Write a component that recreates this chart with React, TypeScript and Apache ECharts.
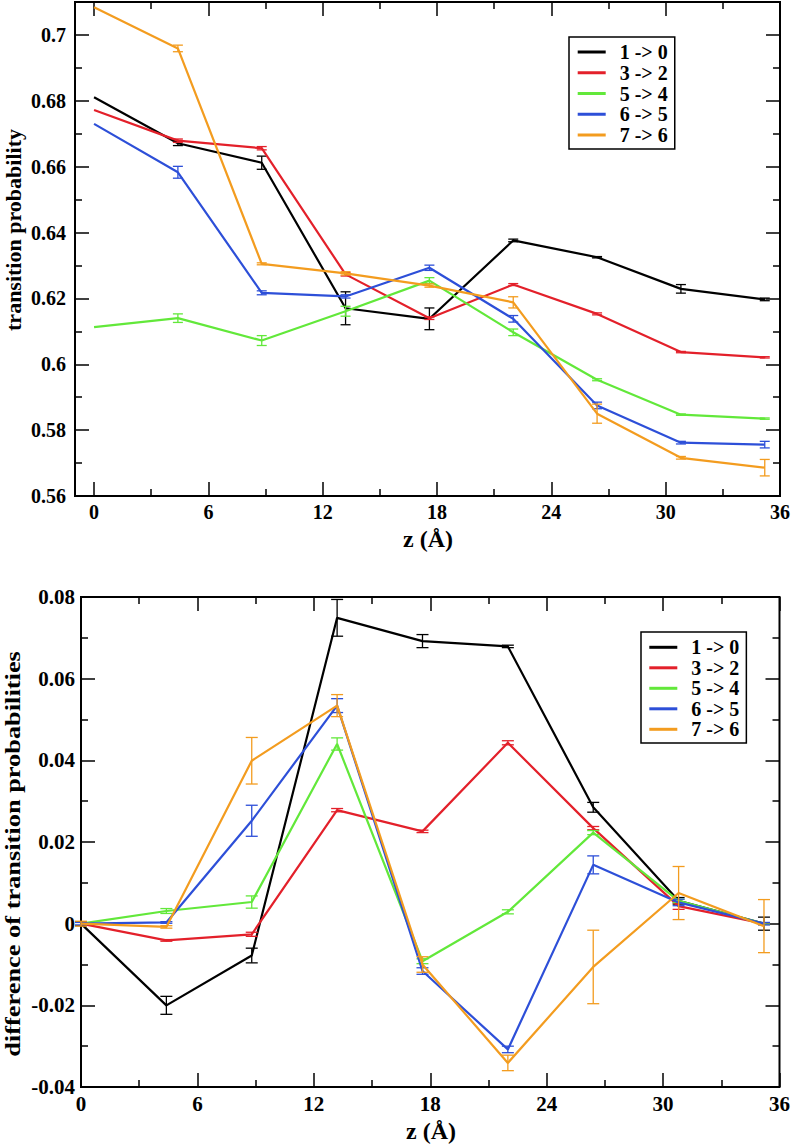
import { useEffect, useRef } from "react";
import * as echarts from "echarts";

// ---------- data ----------
const Z = [0, 4.4, 8.8, 13.2, 17.6, 22, 26.4, 30.8, 35.2];
const SERIES_NAMES = ["1 -> 0", "3 -> 2", "5 -> 4", "6 -> 5", "7 -> 6"];
const COLORS = ["#000000", "#e3202a", "#62e83a", "#2d4fd8", "#f39c1f"];

// top panel: transition probability
const P_10 = [0.6811, 0.6671, 0.6612, 0.617, 0.6138, 0.6376, 0.6325, 0.6229, 0.6197];
const P_32 = [0.6772, 0.6679, 0.6656, 0.6273, 0.614, 0.6242, 0.6153, 0.6037, 0.6021];
const P_54 = [0.6113, 0.614, 0.6072, 0.6161, 0.6254, 0.6097, 0.5953, 0.5847, 0.5835];
const P_65 = [0.673, 0.6583, 0.6217, 0.6206, 0.6293, 0.6138, 0.5875, 0.5762, 0.5756];
const P_76 = [0.7084, 0.6959, 0.6305, 0.6276, 0.6239, 0.6188, 0.585, 0.5716, 0.5686];
const PE_10 = [0, 0.0007, 0.002, 0.005, 0.0033, 0.0004, 0.0002, 0.0013, 0.0004];
const PE_32 = [0, 0.0005, 0.0005, 0.0005, 0.0004, 0.0003, 0.0003, 0.0002, 0.0002];
const PE_54 = [0, 0.0013, 0.0015, 0.0015, 0.0009, 0.001, 0.0003, 0.0002, 0.0002];
const PE_65 = [0, 0.0018, 0.0006, 0.0005, 0.0008, 0.001, 0.001, 0.0004, 0.001];
const PE_76 = [0, 0.001, 0.0003, 0.0005, 0.0005, 0.0017, 0.0029, 0.0004, 0.0025];

// bottom panel: difference of transition probabilities
const D_10 = [0, -0.02, -0.0078, 0.0749, 0.0692, 0.0679, 0.0285, 0.0056, 0];
const D_32 = [0, -0.0041, -0.0026, 0.0278, 0.0226, 0.0443, 0.0234, 0.0043, 0];
const D_54 = [0, 0.0031, 0.0053, 0.044, -0.0092, 0.0029, 0.0223, 0.0056, 0];
const D_65 = [0, 0.0003, 0.0252, 0.0534, -0.0116, -0.0308, 0.0144, 0.0052, 0];
const D_76 = [0, -0.0008, 0.0399, 0.0534, -0.01, -0.0341, -0.0106, 0.0075, -0.0006];
const DE_10 = [0.0005, 0.0022, 0.0018, 0.0045, 0.0016, 0.0003, 0.0012, 0.0008, 0.0016];
const DE_32 = [0, 0.0002, 0.0005, 0.0004, 0.0003, 0.0005, 0.0004, 0.0008, 0.0002];
const DE_54 = [0, 0.0006, 0.0015, 0.0015, 0.0006, 0.0005, 0.0005, 0.0004, 0.0002];
const DE_65 = [0.0003, 0.0002, 0.0038, 0.0017, 0.0008, 0.0008, 0.0022, 0.0008, 0.0003];
const DE_76 = [0.0006, 0.0003, 0.0057, 0.0027, 0.0019, 0.0019, 0.009, 0.0065, 0.0065];

// ticks
const X_MAJOR = [0, 6, 12, 18, 24, 30, 36];
const X_MINOR = [3, 9, 15, 21, 27, 33];
const Y1_MAJOR = [0.56, 0.58, 0.6, 0.62, 0.64, 0.66, 0.68, 0.7];
const Y1_MINOR = [0.57, 0.59, 0.61, 0.63, 0.65, 0.67, 0.69];
const Y2_MAJOR = [-0.04, -0.02, 0, 0.02, 0.04, 0.06, 0.08];
const Y2_MINOR = [-0.03, -0.01, 0.01, 0.03, 0.05, 0.07];

const TOP_VALUES = [P_10, P_32, P_54, P_65, P_76];
const TOP_ERRS = [PE_10, PE_32, PE_54, PE_65, PE_76];
const BOT_VALUES = [D_10, D_32, D_54, D_65, D_76];
const BOT_ERRS = [DE_10, DE_32, DE_54, DE_65, DE_76];

const FONT = '"Liberation Serif", "Times New Roman", serif';

function tick(vals: number[], len: number) {
  return { show: true, inside: true, length: len, customValues: vals, lineStyle: { color: "#000", width: 1.5 } };
}

function makeXAxes(gridIndex: number, min: number, fontSize: number, margin: number) {
  const base = {
    type: "value",
    gridIndex,
    min,
    max: 36,
    axisLine: { show: false, onZero: false },
    splitLine: { show: false },
  };
  return [
    {
      ...base,
      position: "bottom",
      axisTick: tick(X_MAJOR, 14),
      axisLabel: {
        show: true,
        customValues: X_MAJOR,
        margin,
        fontFamily: FONT,
        fontWeight: "bold",
        fontSize,
        color: "#000",
        formatter: (v: number) => String(v),
      },
    },
    { ...base, position: "bottom", axisTick: tick(X_MINOR, 7), axisLabel: { show: false } },
    { ...base, position: "top", axisTick: tick(X_MAJOR, 14), axisLabel: { show: false } },
    { ...base, position: "top", axisTick: tick(X_MINOR, 7), axisLabel: { show: false } },
  ];
}

function makeYAxes(
  gridIndex: number,
  min: number,
  max: number,
  major: number[],
  minor: number[],
  fontSize: number,
  margin: number
) {
  const base = {
    type: "value",
    gridIndex,
    min,
    max,
    axisLine: { show: false, onZero: false },
    splitLine: { show: false },
  };
  return [
    {
      ...base,
      position: "left",
      axisTick: tick(major, 14),
      axisLabel: {
        show: true,
        customValues: major,
        margin,
        fontFamily: FONT,
        fontWeight: "bold",
        fontSize,
        color: "#000",
        formatter: (v: number) => String(+v.toFixed(2)),
      },
    },
    { ...base, position: "left", axisTick: tick(minor, 7), axisLabel: { show: false } },
    { ...base, position: "right", axisTick: tick(major, 14), axisLabel: { show: false } },
    { ...base, position: "right", axisTick: tick(minor, 7), axisLabel: { show: false } },
  ];
}

function makeSeries(values: number[][], errs: number[][], axisIndex: number, cap: number) {
  const out: any[] = [];
  values.forEach((vals, k) => {
    const color = COLORS[k];
    out.push({
      type: "line",
      name: SERIES_NAMES[k],
      xAxisIndex: axisIndex,
      yAxisIndex: axisIndex,
      data: Z.map((z, i) => [z, vals[i]]),
      symbol: "none",
      lineStyle: { color, width: 2.2 },
      itemStyle: { color },
      z: 2 + k,
    });
    out.push({
      type: "custom",
      name: "err " + SERIES_NAMES[k] + " " + axisIndex,
      xAxisIndex: axisIndex,
      yAxisIndex: axisIndex,
      data: Z.map((z, i) => [z, vals[i], errs[k][i]]),
      encode: { x: 0, y: 1 },
      clip: false,
      z: 2 + k,
      renderItem: (params: any, api: any) => {
        const x = api.value(0);
        const y = api.value(1);
        const e = api.value(2);
        if (!e) return null;
        const t = api.coord([x, y + e]);
        const b = api.coord([x, y - e]);
        const style = { stroke: color, lineWidth: 1.3 };
        return {
          type: "group",
          children: [
            { type: "line", shape: { x1: t[0], y1: t[1], x2: b[0], y2: b[1] }, style },
            { type: "line", shape: { x1: t[0] - cap, y1: t[1], x2: t[0] + cap, y2: t[1] }, style },
            { type: "line", shape: { x1: b[0] - cap, y1: b[1], x2: b[0] + cap, y2: b[1] }, style },
          ],
        };
      },
    });
  });
  return out;
}

function makeLegend(left: number, top: number, pad: number[], gap: number) {
  return {
    data: SERIES_NAMES,
    orient: "vertical",
    left,
    top,
    padding: pad,
    itemGap: gap,
    itemWidth: 28,
    itemHeight: 3,
    icon: "rect",
    selectedMode: false,
    borderColor: "#000",
    borderWidth: 1.5,
    backgroundColor: "#fff",
    textStyle: {
      fontFamily: FONT,
      fontWeight: "bold",
      fontSize: 20,
      lineHeight: 20,
      color: "#000",
      padding: [0, 0, 0, 9],
    },
  };
}

const option: any = {
  animation: false,
  backgroundColor: "#fff",
  grid: [
    { left: 75, top: 2, width: 706, height: 494, show: true, borderColor: "#000", borderWidth: 2, backgroundColor: "transparent" },
    { left: 81, top: 597, width: 700, height: 490, show: true, borderColor: "#000", borderWidth: 2, backgroundColor: "transparent" },
  ],
  xAxis: [...makeXAxes(0, -1, 20, 6), ...makeXAxes(1, 0, 21, 6)],
  yAxis: [
    ...makeYAxes(0, 0.56, 0.71, Y1_MAJOR, Y1_MINOR, 20, 9),
    ...makeYAxes(1, -0.04, 0.08, Y2_MAJOR, Y2_MINOR, 21, 6),
  ],
  legend: [makeLegend(569, 37, [5, 7, 4, 8.7], 0.75), makeLegend(641, 632, [5.3, 7, 3.7, 8.3], 0.5)],
  graphic: [
    {
      type: "text",
      x: 13,
      y: 230,
      rotation: Math.PI / 2,
      style: { text: "transition probability", fontFamily: FONT, fontWeight: "bold", fontSize: 22, fill: "#000", align: "center", verticalAlign: "middle" },
    },
    {
      type: "text",
      x: 12,
      y: 854,
      rotation: Math.PI / 2,
      scaleX: 1.2,
      style: { text: "difference of transition probabilities", fontFamily: FONT, fontWeight: "bold", fontSize: 22, fill: "#000", align: "center", verticalAlign: "middle" },
    },
    {
      type: "text",
      x: 428,
      y: 539,
      style: { text: "z (Å)", fontFamily: FONT, fontWeight: "bold", fontSize: 24, fill: "#000", align: "center", verticalAlign: "middle" },
    },
    {
      type: "text",
      x: 431,
      y: 1131,
      style: { text: "z (Å)", fontFamily: FONT, fontWeight: "bold", fontSize: 24, fill: "#000", align: "center", verticalAlign: "middle" },
    },
  ],
  series: [...makeSeries(TOP_VALUES, TOP_ERRS, 0, 5), ...makeSeries(BOT_VALUES, BOT_ERRS, 4, 6)],
};

export default function App() {
  const ref = useRef<HTMLDivElement>(null);
  useEffect(() => {
    const chart = echarts.init(ref.current as HTMLDivElement, null, { renderer: "svg" });
    chart.setOption(option);
    return () => chart.dispose();
  }, []);
  return (
    <div
      ref={ref}
      style={{ position: "absolute", left: 0, top: 0, width: 793, height: 1144, background: "#fff" }}
    />
  );
}
